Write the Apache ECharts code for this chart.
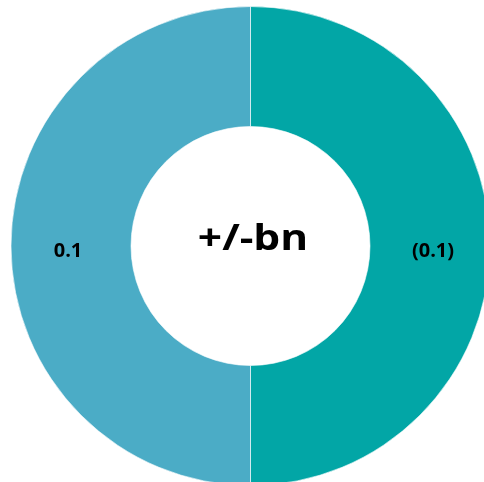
<!DOCTYPE html>
<html>
<head>
<meta charset="utf-8">
<script src="https://cdn.jsdelivr.net/npm/echarts@6/dist/echarts.min.js"></script>
<style>
html,body{margin:0;padding:0;background:#fff;}
#c{width:484px;height:482px;}
</style>
</head>
<body>
<div id="c"></div>
<script>
var categories = ['Negative', 'Positive'];
var values = [-0.1, 0.1];
var colors = ['#02A6A6', '#4BACC6'];
var centerText = '+/-bn';

function fmt(v) {
  return v < 0 ? '(' + Math.abs(v).toFixed(1) + ')' : v.toFixed(1);
}

var chart = echarts.init(document.getElementById('c'), null, {renderer: 'canvas'});
chart.setOption({
  animation: false,
  series: [{
    type: 'pie',
    center: [250.5, 246],
    radius: [119.5, 239.5],
    startAngle: 90,
    clockwise: true,
    avoidLabelOverlap: false,
    silent: true,
    itemStyle: {borderColor: 'rgba(255,255,255,0.6)', borderWidth: 1},
    label: {
      show: true,
      position: 'inside',
      formatter: function (p) { return '{v|' + fmt(values[p.dataIndex]) + '}'; },
      rich: {
        v: {
          color: '#000',
          fontFamily: 'Open Sans',
          fontWeight: 'bold',
          fontSize: 20,
          lineHeight: 20,
          padding: [10, 0, 0, 0]
        }
      }
    },
    labelLine: {show: false},
    data: categories.map(function (c, i) {
      return {name: c, value: Math.abs(values[i]), itemStyle: {color: colors[i]}};
    })
  }],
  graphic: [{
    type: 'text',
    x: 253,
    y: 240,
    scaleX: 1.18,
    style: {
      text: centerText,
      x: 0, y: 0,
      align: 'center',
      verticalAlign: 'middle',
      fontFamily: 'Open Sans',
      fontWeight: 'bold',
      fontSize: 36,
      fill: '#000'
    }
  }]
});
</script>
</body>
</html>
